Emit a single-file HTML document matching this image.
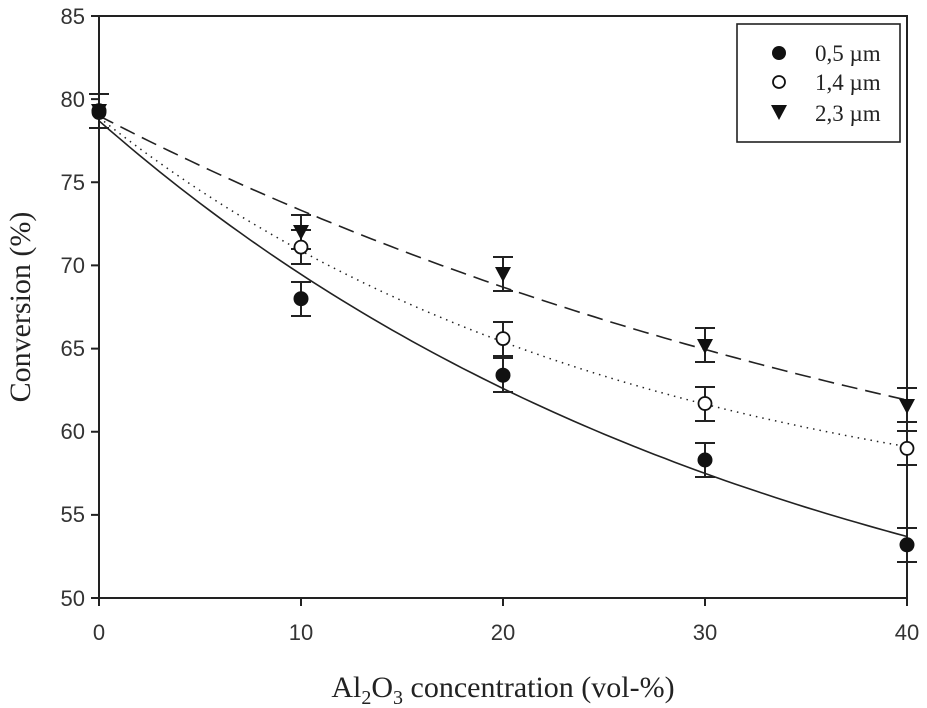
<!DOCTYPE html>
<html><head><meta charset="utf-8"><style>html,body{margin:0;padding:0;background:#fff}svg{display:block}</style></head>
<body>
<svg width="927" height="708" viewBox="0 0 927 708" xmlns="http://www.w3.org/2000/svg">
<rect width="927" height="708" fill="#fff"/>
<g stroke="#222" stroke-width="2" fill="none">
<rect x="99" y="16" width="808" height="582"/>
<path d="M91 16H99M91 99.1H99M91 182.3H99M91 265.4H99M91 348.6H99M91 431.7H99M91 514.9H99M91 598H99"/>
<path d="M99 598V606M301 598V606M503 598V606M705 598V606M907 598V606"/>
</g>
<g font-family="Liberation Sans, sans-serif" font-size="22" fill="#333" text-anchor="end">
<text x="85" y="24">85</text><text x="85" y="107">80</text><text x="85" y="190">75</text><text x="85" y="273">70</text><text x="85" y="356">65</text><text x="85" y="439">60</text><text x="85" y="522">55</text><text x="85" y="606">50</text>
</g>
<g font-family="Liberation Sans, sans-serif" font-size="22" fill="#333" text-anchor="middle">
<text x="99" y="640">0</text><text x="301" y="640">10</text><text x="503" y="640">20</text><text x="705" y="640">30</text><text x="907" y="640">40</text>
</g>
<text x="503" y="697" font-family="Liberation Serif, serif" font-size="30" fill="#222" text-anchor="middle">Al<tspan font-size="20" dy="7">2</tspan><tspan dy="-7">O</tspan><tspan font-size="20" dy="7">3</tspan><tspan dy="-7"> concentration (vol-%)</tspan></text>
<text transform="translate(30,307) rotate(-90)" font-family="Liberation Serif, serif" font-size="30" fill="#222" text-anchor="middle">Conversion (%)</text>
<g fill="none" stroke="#222" stroke-width="1.6" stroke-linejoin="round">
<polyline id="c1" points="99,120.8 200,197.3 301,268.8 402,332 503,388.5 604,435.1 705,476.6 806,509.9 907,536.5"/>
<polyline id="c2" points="99,117.4 200,182.3 301,242.2 402,295.4 503,341.9 604,380.2 705,410.1 806,433.4 907,446.7" stroke-dasharray="1.5 5" stroke-width="1.5"/>
<polyline id="c3" points="99,115.8 200,164 301,208.9 402,250.5 503,287.1 604,320.3 705,350.2 806,376.9 907,400.1" stroke-dasharray="16 8"/>
</g>
<g stroke="#222" stroke-width="2">
<path d="M99 94V128M89 94H109M89 128H109"/>
<path d="M301 282V316M291 282H311M291 316H311M503 358V392M493 358H513M493 392H513M705 443V477M695 443H715M695 477H715M907 528V562M897 528H917M897 562H917"/>
<path d="M301 230V264M291 230H311M291 264H311M503 322V356M493 322H513M493 356H513M705 387V421M695 387H715M695 421H715M907 431V465M897 431H917M897 465H917"/>
<path d="M301 215V249M291 215H311M291 249H311M503 257V291M493 257H513M493 291H513M705 328V362M695 328H715M695 362H715M907 388V422M897 388H917M897 422H917"/>
</g>
<g fill="#111">
<path d="M91 104H107L99 119Z"/><path d="M293 225H309L301 240Z"/><path d="M495 267H511L503 282Z"/><path d="M697 339H713L705 354Z"/><path d="M899 399H915L907 414Z"/>
</g>
<g fill="#fff" stroke="#111" stroke-width="1.8">
<circle cx="99" cy="112.5" r="6.5"/><circle cx="301" cy="247.1" r="6.5"/><circle cx="503" cy="338.6" r="6.5"/><circle cx="705" cy="403.5" r="6.5"/><circle cx="907" cy="448.4" r="6.5"/>
</g>
<g fill="#111">
<circle cx="99" cy="110.8" r="7.5"/><circle cx="301" cy="298.7" r="7.5"/><circle cx="503" cy="375.2" r="7.5"/><circle cx="705" cy="460" r="7.5"/><circle cx="907" cy="544.8" r="7.5"/>
</g>
<rect x="737" y="24" width="163" height="118" fill="#fff" stroke="#222" stroke-width="1.6"/>
<circle cx="779" cy="53" r="7" fill="#111"/>
<circle cx="779" cy="82" r="6" fill="#fff" stroke="#111" stroke-width="1.8"/>
<path d="M771 105H787L779 120Z" fill="#111"/>
<g font-family="Liberation Serif, serif" font-size="23" fill="#222">
<text x="815" y="61">0,5 µm</text><text x="815" y="90">1,4 µm</text><text x="815" y="121">2,3 µm</text>
</g>
</svg>
<script>
(function(){
function fit(v0,v20,v40){var d1=v0-v20,d2=v20-v40,r=d2/d1,b=d1/(1-r),a=v0-b;return function(x){return a+b*Math.pow(r,x/20);};}
var fs=[fit(78.7,62.6,53.7),fit(78.9,65.4,59.1),fit(79.0,68.7,61.9)];
['c1','c2','c3'].forEach(function(id,i){var p=[];for(var x=0;x<=40.001;x+=0.5){var v=fs[i](x);p.push((99+20.2*x).toFixed(1)+','+(16+(85-v)*16.629).toFixed(1));}document.getElementById(id).setAttribute('points',p.join(' '));});
})();
</script>
</body></html>
